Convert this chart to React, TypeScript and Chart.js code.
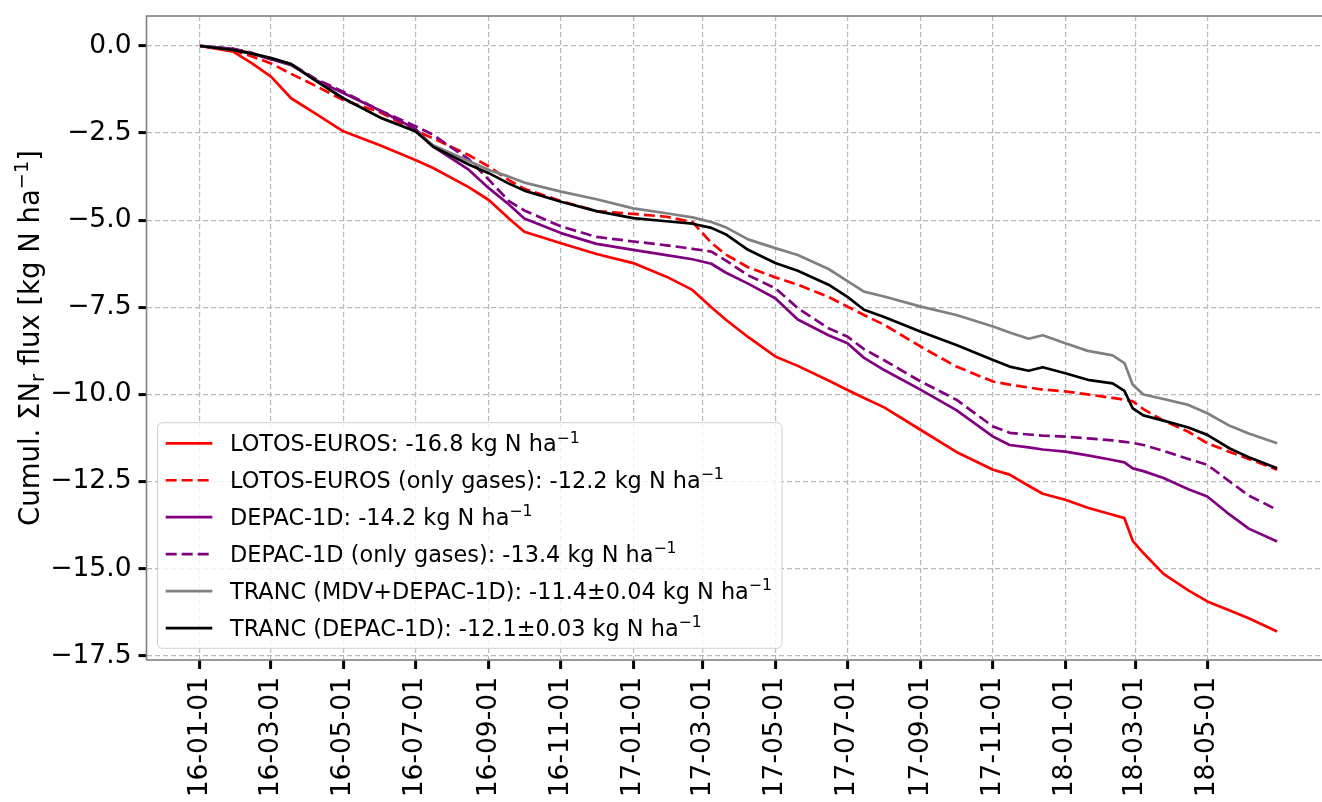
import React, { useEffect, useRef } from 'react';
import { Chart, registerables } from 'chart.js';

Chart.register(...registerables);

// ---------------- data ----------------
const sampleDates = [
  '2016-01-01', '2016-01-29', '2016-02-14', '2016-03-01', '2016-03-18', '2016-04-08',
  '2016-05-01', '2016-06-01', '2016-07-01', '2016-07-16', '2016-08-15', '2016-09-01',
  '2016-09-18', '2016-10-01', '2016-11-01', '2016-12-01', '2017-01-01', '2017-01-29',
  '2017-02-20', '2017-03-08', '2017-03-20', '2017-04-08', '2017-05-01', '2017-05-20',
  '2017-06-15', '2017-07-01', '2017-07-15', '2017-08-01', '2017-09-01', '2017-10-01',
  '2017-11-01', '2017-11-15', '2017-12-01', '2017-12-13', '2018-01-01', '2018-01-20',
  '2018-02-10', '2018-02-20', '2018-02-27', '2018-03-08', '2018-03-25', '2018-04-15',
  '2018-05-01', '2018-05-20', '2018-06-05', '2018-06-29',
];

const lotosEuros = [
  0, -0.16, -0.5, -0.88, -1.5, -1.95, -2.45, -2.85, -3.27, -3.5, -4.05, -4.42,
  -4.95, -5.33, -5.66, -5.97, -6.23, -6.62, -7.0, -7.5, -7.85, -8.35, -8.91, -9.18,
  -9.6, -9.87, -10.1, -10.37, -11.02, -11.65, -12.16, -12.3, -12.62, -12.85, -13.02, -13.25,
  -13.45, -13.55, -14.2, -14.55, -15.15, -15.62, -15.94, -16.2, -16.42, -16.8,
];

const lotosEurosGases = [
  0, -0.12, -0.3, -0.5, -0.8, -1.15, -1.55, -1.9, -2.42, -2.65, -3.13, -3.46,
  -3.85, -4.1, -4.45, -4.74, -4.82, -4.9, -5.05, -5.65, -5.98, -6.35, -6.64, -6.85,
  -7.2, -7.48, -7.72, -8.0, -8.63, -9.2, -9.63, -9.72, -9.8, -9.86, -9.91, -10.0,
  -10.1, -10.15, -10.2, -10.42, -10.75, -11.07, -11.4, -11.65, -11.85, -12.16,
];

const depac1d = [
  0, -0.08, -0.22, -0.38, -0.55, -0.98, -1.35, -1.85, -2.38, -2.89, -3.55, -4.08,
  -4.55, -4.95, -5.37, -5.68, -5.85, -6.0, -6.12, -6.25, -6.5, -6.82, -7.24, -7.85,
  -8.3, -8.53, -8.95, -9.3, -9.87, -10.45, -11.21, -11.45, -11.52, -11.58, -11.64, -11.75,
  -11.88, -11.95, -12.12, -12.2, -12.4, -12.72, -12.93, -13.45, -13.85, -14.22,
];

const depac1dGases = [
  0, -0.08, -0.2, -0.38, -0.52, -0.95, -1.31, -1.85, -2.3, -2.55, -3.25, -3.84,
  -4.45, -4.72, -5.18, -5.48, -5.61, -5.72, -5.82, -5.9, -6.15, -6.58, -6.95, -7.52,
  -8.1, -8.34, -8.7, -9.02, -9.63, -10.15, -10.92, -11.1, -11.15, -11.18, -11.21, -11.26,
  -11.32, -11.36, -11.39, -11.45, -11.62, -11.85, -12.02, -12.5, -12.9, -13.31,
];

const trancMdvDepac = [
  0, -0.11, -0.22, -0.35, -0.52, -1.0, -1.5, -2.05, -2.45, -2.85, -3.3, -3.56,
  -3.75, -3.92, -4.18, -4.4, -4.66, -4.8, -4.92, -5.05, -5.2, -5.55, -5.8, -6.0,
  -6.4, -6.75, -7.05, -7.19, -7.48, -7.72, -8.05, -8.22, -8.4, -8.3, -8.53, -8.75,
  -8.88, -9.1, -9.72, -10.0, -10.13, -10.3, -10.54, -10.9, -11.12, -11.4,
];

const trancDepac = [
  0, -0.11, -0.22, -0.35, -0.52, -1.0, -1.5, -2.05, -2.45, -2.89, -3.4, -3.65,
  -3.95, -4.15, -4.47, -4.74, -4.94, -5.03, -5.1, -5.22, -5.4, -5.85, -6.23, -6.45,
  -6.85, -7.2, -7.57, -7.78, -8.2, -8.58, -9.01, -9.2, -9.32, -9.22, -9.39, -9.58,
  -9.68, -9.9, -10.4, -10.6, -10.75, -10.95, -11.16, -11.55, -11.8, -12.12,
];

const legendLabels = [
  'LOTOS-EUROS: -16.8 kg N ha^{\u22121}',
  'LOTOS-EUROS (only gases): -12.2 kg N ha^{\u22121}',
  'DEPAC-1D: -14.2 kg N ha^{\u22121}',
  'DEPAC-1D (only gases): -13.4 kg N ha^{\u22121}',
  'TRANC (MDV+DEPAC-1D): -11.4\u00b10.04 kg N ha^{\u22121}',
  'TRANC (DEPAC-1D): -12.1\u00b10.03 kg N ha^{\u22121}',
];

const xTickLabels = [
  '16-01-01', '16-03-01', '16-05-01', '16-07-01', '16-09-01', '16-11-01',
  '17-01-01', '17-03-01', '17-05-01', '17-07-01', '17-09-01', '17-11-01',
  '18-01-01', '18-03-01', '18-05-01',
];

const yTicks = [0, -2.5, -5, -7.5, -10, -12.5, -15, -17.5];

const yTitle = 'Cumul. \u03a3N_{r} flux [kg N ha^{\u22121}]';

// ---------------- helpers ----------------
const FONT = '"DejaVu Sans"';
const dayOf = (iso: string) => {
  const [y, m, d] = iso.split('-').map(Number);
  return (Date.UTC(y, m - 1, d) - Date.UTC(2016, 0, 1)) / 86400000;
};
const sampleDays = sampleDates.map(dayOf);
const tickDays = xTickLabels.map((l) => dayOf('20' + l));

type Seg = { t: string; k: 'n' | 'sub' | 'sup' };
const parseRich = (s: string): Seg[] => {
  const out: Seg[] = [];
  const re = /(\^\{[^}]*\}|_\{[^}]*\})/g;
  let last = 0;
  let m: RegExpExecArray | null;
  while ((m = re.exec(s))) {
    if (m.index > last) out.push({ t: s.slice(last, m.index), k: 'n' });
    out.push({ t: m[0].slice(2, -1), k: m[0][0] === '^' ? 'sup' : 'sub' });
    last = m.index + m[0].length;
  }
  if (last < s.length) out.push({ t: s.slice(last), k: 'n' });
  return out;
};
const segFont = (seg: Seg, fs: number) => `${seg.k === 'n' ? fs : fs * 0.7}px ${FONT}`;
const richWidth = (ctx: CanvasRenderingContext2D, segs: Seg[], fs: number) => {
  let w = 0;
  segs.forEach((s) => {
    ctx.font = segFont(s, fs);
    w += ctx.measureText(s.t).width;
  });
  return w;
};
const drawRich = (ctx: CanvasRenderingContext2D, segs: Seg[], x: number, y: number, fs: number) => {
  let cx = x;
  ctx.textAlign = 'left';
  ctx.textBaseline = 'alphabetic';
  segs.forEach((s) => {
    ctx.font = segFont(s, fs);
    const dy = s.k === 'sup' ? -fs * 0.4 : s.k === 'sub' ? fs * 0.17 : 0;
    ctx.fillText(s.t, cx, y + dy);
    cx += ctx.measureText(s.t).width;
  });
};

const seriesDefs = [
  { label: legendLabels[0], values: lotosEuros, color: '#ff0000', dash: [] as number[] },
  { label: legendLabels[1], values: lotosEurosGases, color: '#ff0000', dash: [11, 5] },
  { label: legendLabels[2], values: depac1d, color: '#800080', dash: [] as number[] },
  { label: legendLabels[3], values: depac1dGases, color: '#800080', dash: [11, 5] },
  { label: legendLabels[4], values: trancMdvDepac, color: '#808080', dash: [] as number[] },
  { label: legendLabels[5], values: trancDepac, color: '#000000', dash: [] as number[] },
];

const spinesPlugin = {
  id: 'spines',
  afterDatasetsDraw(chart: any) {
    const { ctx, chartArea: a } = chart;
    ctx.save();
    ctx.strokeStyle = '#808080';
    ctx.lineWidth = 1.6;
    ctx.setLineDash([]);
    ctx.strokeRect(a.left, a.top, a.right - a.left, a.bottom - a.top);
    ctx.restore();
  },
};

const yTitlePlugin = {
  id: 'yTitle',
  afterDraw(chart: any) {
    const { ctx, chartArea: a } = chart;
    const fs = 27.5;
    const segs = parseRich(yTitle);
    ctx.save();
    const w = richWidth(ctx, segs, fs);
    const cy = (a.top + a.bottom) / 2;
    ctx.translate(39, cy + w / 2);
    ctx.rotate(-Math.PI / 2);
    ctx.fillStyle = '#000';
    drawRich(ctx, segs, 0, 0, fs);
    ctx.restore();
  },
};

const legendPlugin = {
  id: 'mplLegend',
  afterDraw(chart: any) {
    const { ctx } = chart;
    const fs = 22.4;
    const datasets = chart.data.datasets;
    const boxLeft = 157.5;
    const boxTop = 422.7;
    const boxBottom = 648.3;
    const firstRow = 443.3;
    const rowH = 36.95;
    const textX = 230;
    ctx.save();
    let maxW = 0;
    datasets.forEach((ds: any) => {
      maxW = Math.max(maxW, richWidth(ctx, parseRich(ds.label), fs));
    });
    const boxRight = textX + maxW + 10;
    const r = 5;
    ctx.beginPath();
    ctx.moveTo(boxLeft + r, boxTop);
    ctx.lineTo(boxRight - r, boxTop);
    ctx.arcTo(boxRight, boxTop, boxRight, boxTop + r, r);
    ctx.lineTo(boxRight, boxBottom - r);
    ctx.arcTo(boxRight, boxBottom, boxRight - r, boxBottom, r);
    ctx.lineTo(boxLeft + r, boxBottom);
    ctx.arcTo(boxLeft, boxBottom, boxLeft, boxBottom - r, r);
    ctx.lineTo(boxLeft, boxTop + r);
    ctx.arcTo(boxLeft, boxTop, boxLeft + r, boxTop, r);
    ctx.closePath();
    ctx.fillStyle = 'rgba(255,255,255,0.8)';
    ctx.fill();
    ctx.strokeStyle = '#d0d0d0';
    ctx.lineWidth = 1;
    ctx.setLineDash([]);
    ctx.stroke();
    datasets.forEach((ds: any, i: number) => {
      const y = firstRow + i * rowH;
      ctx.save();
      ctx.strokeStyle = ds.borderColor;
      ctx.lineWidth = ds.borderWidth;
      ctx.setLineDash(ds.borderDash || []);
      ctx.beginPath();
      ctx.moveTo(165.7, y);
      ctx.lineTo(212.3, y);
      ctx.stroke();
      ctx.restore();
      ctx.fillStyle = '#000';
      drawRich(ctx, parseRich(ds.label), textX, y + (fs * 0.729) / 2, fs);
    });
    ctx.restore();
  },
};

export default function App() {
  const canvasRef = useRef<HTMLCanvasElement | null>(null);

  useEffect(() => {
    const canvas = canvasRef.current;
    if (!canvas) return;
    const datasets = seriesDefs.map((s, i) => ({
      label: s.label,
      data: sampleDays.map((d, j) => ({ x: d, y: s.values[j] })),
      borderColor: s.color,
      backgroundColor: s.color,
      borderWidth: 2.7,
      borderDash: s.dash,
      borderJoinStyle: 'round' as const,
      pointRadius: 0,
      fill: false,
      tension: 0,
      order: seriesDefs.length - i,
    }));

    const chart = new Chart(canvas, {
      type: 'line',
      data: { datasets },
      plugins: [spinesPlugin, yTitlePlugin, legendPlugin],
      options: {
        animation: false,
        responsive: false,
        devicePixelRatio: 1,
        layout: { padding: { top: 16, right: 9, bottom: 0, left: 0 } },
        plugins: {
          legend: { display: false },
          tooltip: { enabled: false },
          title: { display: false },
        },
        scales: {
          x: {
            type: 'linear',
            min: -45.2,
            max: 955.5,
            afterBuildTicks: (scale: any) => {
              scale.ticks = tickDays.map((v) => ({ value: v }));
            },
            afterFit: (scale: any) => {
              scale.height = 142;
              scale.paddingLeft = 0;
              scale.paddingRight = 0;
            },
            ticks: {
              autoSkip: false,
              minRotation: 90,
              maxRotation: 90,
              padding: 8,
              color: '#000',
              font: { family: 'DejaVu Sans', size: 26.5 },
              callback: (_v: any, i: number) => xTickLabels[i],
            },
            grid: {
              color: '#b8b8b8',
              lineWidth: 1.2,
              tickColor: '#000',
              tickWidth: 3,
              tickLength: 9,
            },
            border: { display: false, dash: [5, 3] },
          },
          y: {
            type: 'linear',
            min: -17.62,
            max: 0.86,
            afterBuildTicks: (scale: any) => {
              scale.ticks = yTicks.map((v) => ({ value: v }));
            },
            afterFit: (scale: any) => {
              scale.width = 146.5;
              scale.paddingTop = 0;
              scale.paddingBottom = 0;
            },
            ticks: {
              padding: 7,
              color: '#000',
              font: { family: 'DejaVu Sans', size: 26.5 },
              callback: (v: any) => (v === 0 ? '0.0' : Number(v).toFixed(1).replace('-', '\u2212')),
            },
            grid: {
              color: '#b8b8b8',
              lineWidth: 1.2,
              tickColor: '#000',
              tickWidth: 3,
              tickLength: 8,
            },
            border: { display: false, dash: [5, 3] },
          },
        },
      } as any,
    });
    return () => chart.destroy();
  }, []);

  return (
    <div
      style={{
        position: 'fixed',
        left: 0,
        top: 0,
        width: 1322,
        height: 802,
        overflow: 'hidden',
        background: '#fff',
      }}
    >
      <canvas ref={canvasRef} width={1340} height={802} style={{ width: 1340, height: 802, display: 'block' }} />
    </div>
  );
}
